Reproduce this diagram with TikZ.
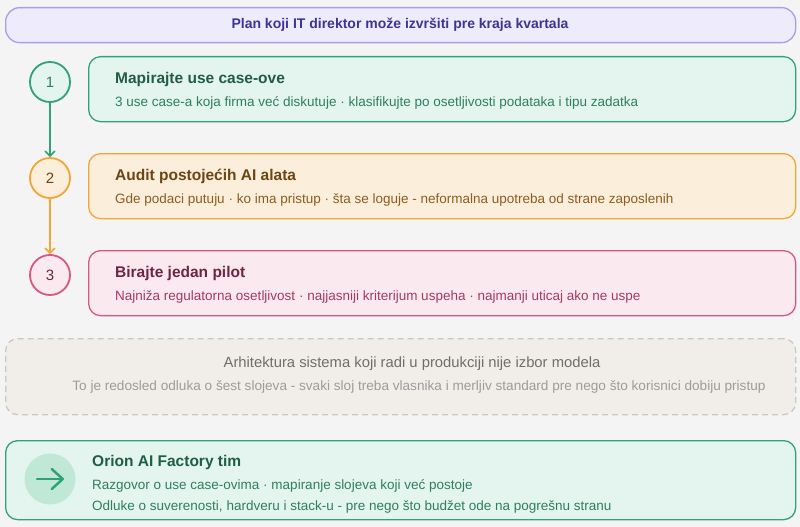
\documentclass[tikz,border=0pt]{standalone}
\usepackage{fontspec}
\setmainfont{Liberation Sans}
\usepackage{color}
\usetikzlibrary{arrows.meta}

\definecolor{bg}{HTML}{F3F4F3}
\definecolor{hdfill}{HTML}{EEEBFC}
\definecolor{hddraw}{HTML}{A99EEA}
\definecolor{hdtext}{HTML}{3D3592}
\definecolor{grdraw}{HTML}{2FA277}
\definecolor{grfill}{HTML}{E3F5EE}
\definecolor{grhead}{HTML}{1F5E45}
\definecolor{grsub}{HTML}{2F7F5F}
\definecolor{ordraw}{HTML}{F2A735}
\definecolor{orfill}{HTML}{FBEEDA}
\definecolor{orhead}{HTML}{6B4513}
\definecolor{orsub}{HTML}{8C5D20}
\definecolor{pkdraw}{HTML}{D95683}
\definecolor{pkfill}{HTML}{FBE9F0}
\definecolor{pkhead}{HTML}{6E2543}
\definecolor{pksub}{HTML}{A23B63}
\definecolor{gydraw}{HTML}{C8C8C8}
\definecolor{gyfill}{HTML}{F1EEE9}
\definecolor{gyhead}{HTML}{6E6E6E}
\definecolor{gysub}{HTML}{9C9C9C}
\definecolor{icfill}{HTML}{C0E8D7}

\begin{document}
\begin{tikzpicture}[x=1pt, y=-1pt,
    panel/.style={draw, rounded corners=12pt, line width=1.3pt, anchor=north west,
      minimum width=790pt, inner sep=0pt},
    stepbox/.style={panel, minimum width=707pt, minimum height=65pt},
    num/.style={circle, draw, line width=1.8pt, minimum size=40pt, inner sep=0pt,
      font=\fontsize{15}{18}\selectfont},
    head/.style={anchor=base west, inner sep=0pt, font=\fontsize{15.5}{18}\selectfont\bfseries},
    sub/.style={anchor=base west, inner sep=0pt, font=\fontsize{13.5}{16}\selectfont},
    link/.style={line width=1.5pt, -{Straight Barb[length=5pt, width=10pt]}}]

  \fill[bg] (0,0) rectangle (800,527);
  \useasboundingbox (0,0) rectangle (800,527);

  % header
  \node[panel, draw=hddraw, fill=hdfill, rounded corners=14pt, minimum height=35pt] (hdr) at (5,7) {};
  \node[anchor=base, inner sep=0pt, text=hdtext, font=\fontsize{14}{17}\selectfont\bfseries]
    (hdrtext) at (400,29) {Plan koji IT direktor može izvršiti pre kraja kvartala};

  % steps
  \node[num, draw=grdraw, fill=grfill, text=grsub] (s1) at (50,82) {1};
  \node[num, draw=ordraw, fill=orfill, text=orhead] (s2) at (50,178) {2};
  \node[num, draw=pkdraw, fill=pkfill, text=pkhead] (s3) at (50,275) {3};
  \draw[link, grdraw] (s1) -- (s2);
  \draw[link, ordraw] (s2) -- (s3);

  \node[stepbox, draw=grdraw, fill=grfill] (b1) at (88,56) {};
  \node[head, text=grhead] (h1) at (115,83.5) {Mapirajte use case-ove};
  \node[sub, text=grsub] (d1) at (115,106) {3 use case-a koja firma već diskutuje · klasifikujte po osetljivosti podataka i tipu zadatka};

  \node[stepbox, draw=ordraw, fill=orfill] (b2) at (88,153) {};
  \node[head, text=orhead] (h2) at (115,180.5) {Audit postojećih AI alata};
  \node[sub, text=orsub] (d2) at (115,203) {Gde podaci putuju · ko ima pristup · šta se loguje - neformalna upotreba od strane zaposlenih};

  \node[stepbox, draw=pkdraw, fill=pkfill] (b3) at (88,250) {};
  \node[head, text=pkhead] (h3) at (115,277.5) {Birajte jedan pilot};
  \node[sub, text=pksub] (d3) at (115,300) {Najniža regulatorna osetljivost · najjasniji kriterijum uspeha · najmanji uticaj ako ne uspe};

  % note
  \node[panel, draw=gydraw, fill=gyfill, dash pattern=on 6pt off 4pt, minimum height=76pt] (note) at (5,338) {};
  \node[anchor=base, inner sep=0pt, text=gyhead, font=\fontsize{14.8}{17}\selectfont]
    (notehead) at (412,367) {Arhitektura sistema koji radi u produkciji nije izbor modela};
  \node[anchor=base, inner sep=0pt, text=gysub, font=\fontsize{13.6}{16}\selectfont]
    (notesub) at (419,390) {To je redosled odluka o šest slojeva - svaki sloj treba vlasnika i merljiv standard pre nego što korisnici dobiju pristup};

  % team
  \node[panel, draw=grdraw, fill=grfill, minimum height=79pt] (team) at (5,440) {};
  \node[circle, fill=icfill, minimum size=51pt, inner sep=0pt] (ic) at (50,479) {};
  \draw[grdraw, line width=2.5pt, line cap=round,
    -{Straight Barb[length=11pt, width=20pt, line cap=round, line join=round]}]
    ([xshift=-13pt]ic.center) -- ([xshift=14pt]ic.center);
  \node[head, text=grhead] (teamhead) at (92,466.5) {Orion AI Factory tim};
  \node[sub, text=grsub] (team1) at (92,489.5) {Razgovor o use case-ovima · mapiranje slojeva koji već postoje};
  \node[sub, text=grsub] (team2) at (92,510) {Odluke o suverenosti, hardveru i stack-u - pre nego što budžet ode na pogrešnu stranu};
\end{tikzpicture}
\end{document}
